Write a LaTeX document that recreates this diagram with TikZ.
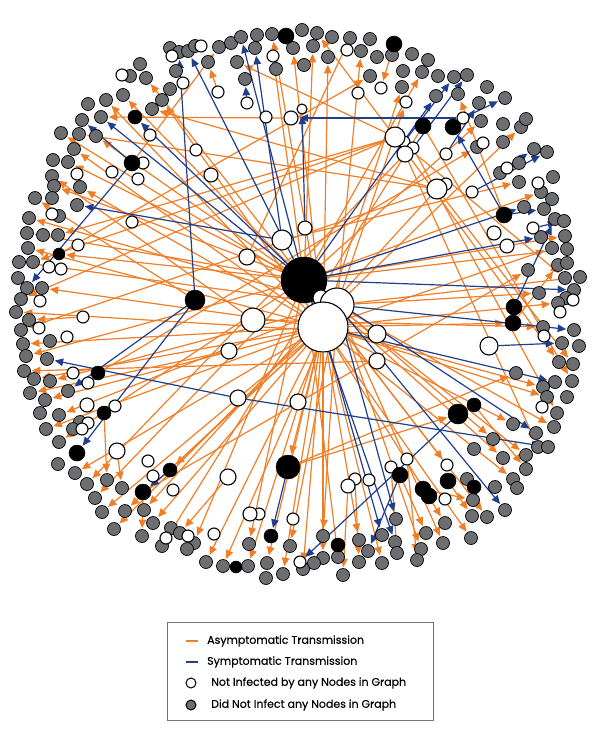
\documentclass[tikz,border=0pt]{standalone}
\usepackage{fontspec}
\setmainfont{Poppins}
\newfontfamily\lgdfont{Poppins}[FakeBold=0.35]
\usetikzlibrary{arrows.meta,backgrounds}
\definecolor{orC}{HTML}{F07E26}
\definecolor{blC}{HTML}{1F3E8C}
\definecolor{grC}{HTML}{6D6E71}
\tikzset{
  gn/.style={circle,draw=black,fill=grC,line width=0.7pt,minimum size=13pt,inner sep=0pt},
  wn/.style={circle,draw=black,fill=white,line width=1.1pt,minimum size=12pt,inner sep=0pt},
  bn/.style={circle,draw=black,fill=black,line width=0.5pt,minimum size=16pt,inner sep=0pt},
  oe/.style={draw=orC,line width=1.2pt,-{Triangle[length=8.5pt,width=7.5pt]},shorten >=1pt},
  be/.style={draw=blC,line width=1.2pt,-{Triangle[length=8.5pt,width=7.5pt]},shorten >=1pt},
  lgd/.style={anchor=west,font=\lgdfont\fontsize{11}{13}\selectfont,inner sep=0pt}
}
\begin{document}
\begin{tikzpicture}[x=1pt,y=-1pt]
\useasboundingbox (0,0) rectangle (600,750);
% gray nodes
\foreach \x/\y in {170/48,179/52,188/51,195/46,140/64,130/76,146/78,176/71,170/89,162/100,152/109,208/62,219/47,231/43,241/37,257/35,272/34,255/48,293/48,237/62,245/79,276/69,123/95,106/100,88/104,101/117,82/120,61/133,79/134,96/136,74/149,53/160,68/162,52/176,54/186,80/187,35/198,52/198,77/205,59/216,29/218,
302/30,317/33,332/37,350/38,370/39,313/46,361/51,377/57,392/55,412/54,428/60,304/65,328/57,370/76,403/71,422/72,438/76,454/77,467/75,402/87,436/96,458/94,487/87,505/98,479/103,481/121,503/124,521/127,526/119,477/147,503/142,534/149,547/152,500/173,519/163,553/177,519/182,541/192,552/199,544/209,524/207,555/219,564/221,541/237,565/236,552/248,567/249,558/265,567/263,580/277,565/278,528/270,539/293,
574/290,566/298,558/303,543/327,574/330,562/343,579/346,559/362,573/364,516/373,555/382,572/381,543/387,547/397,567/397,
557/413,554/427,536/433,513/424,493/439,474/449,538/447,548/447,526/455,526/469,503/458,513/479,517/488,495/487,467/479,473/500,505/510,487/517,472/516,445/523,471/538,443/543,426/533,421/549,417/560,396/519,382/535,395/542,397/553,359/540,368/551,382/563,359/562,343/575,338/557,323/536,323/558,314/563,303/569,
45/400,40/413,59/415,80/422,73/429,46/429,59/442,58/464,75/473,87/484,107/480,122/488,95/498,102/512,125/511,114/529,142/536,144/510,153/523,171/528,180/533,194/543,162/546,187/549,206/562,223/566,248/566,249/544,267/563,266/578,283/574,290/546,
27/233,43/235,58/235,28/248,19/262,33/262,18/278,27/288,42/288,21/299,16/312,29/320,21/330,50/341,23/344,26/356,47/359,24/371,34/379,50/381,68/391,30/393}
  \node[gn] (g\x-\y) at (\x,\y) {};
% white nodes
\foreach \x/\y in {201/46,172/56,122/75,183/83,273/56,218/92,247/103,266/117,347/50,381/88,358/93,406/102,463/118,404/142,413/148,446/154,483/143,507/168,538/183,446/184,472/192,150/135,143/163,112/172,138/179,196/150,77/174,52/214,132/222,78/245,49/267,61/269,40/301,83/317,39/328,67/337,73/373,88/383,533/228,573/300,560/312,544/336,542/407,447/465,445/499,391/467,407/459,355/479,369/480,300/562,293/519,259/514,214/534,166/538,188/536,173/490,153/476,148/461,115/406,88/423,82/429}
  \node[wn] (w\x-\y) at (\x,\y) {};
\foreach \x/\y in {302/109} \node[wn,minimum size=10pt] (w\x-\y) at (\x,\y) {};
\foreach \x/\y in {291/118,211/175,305/228,494/233,507/246,348/486,250/514,87/405} \node[wn,minimum size=14pt] (w\x-\y) at (\x,\y) {};
\foreach \x/\y in {405/154,247/257,229/351,377/361,238/398,298/402,228/477,117/451} \node[wn,minimum size=16pt] (w\x-\y) at (\x,\y) {};
\foreach \x/\y in {377/334,489/346} \node[wn,minimum size=18pt] (w\x-\y) at (\x,\y) {};
\foreach \x/\y in {395/137,437/189,282/240} \node[wn,minimum size=20pt] (w\x-\y) at (\x,\y) {};
\node[wn,minimum size=24pt] (w253-320) at (253,320) {};
% black nodes
\foreach \x/\y in {59/254,236/567} \node[bn,minimum size=12pt] (b\x-\y) at (\x,\y) {};
\foreach \x/\y in {135/117,98/373,104/413,170/470,271/536,338/545,474/487,474/405} \node[bn,minimum size=14pt] (b\x-\y) at (\x,\y) {};
\foreach \x/\y in {286/36,394/44,423/126,453/127,132/163,77/453,143/492,400/475,423/489,429/496,448/481,504/215,514/307,513/323} \node[bn,minimum size=16pt] (b\x-\y) at (\x,\y) {};
\foreach \x/\y in {195/300,458/414} \node[bn,minimum size=20pt] (b\x-\y) at (\x,\y) {};
\node[bn,minimum size=24pt] (b288-467) at (288,467) {};
% hubs
\node[bn,minimum size=46pt] (H1) at (304,280) {};
\node[wn,minimum size=16pt] (w321-298) at (321,298) {};
\node[wn,minimum size=34pt] (H3) at (337,305) {};
\node[wn,minimum size=50pt] (H2) at (323,327) {};
% edges
\begin{pgfonlayer}{background}
\foreach \s/\t in {w291-118/g101-117,H1/g123-95,H1/g146-78,H2/g162-100,w437-189/g152-109,b132-163/g219-47,w218-92/g208-62,w395-137/g237-62,H2/g272-34,H1/w273-56,H2/g293-48,w395-137/g317-33,H1/g313-46,H2/g328-57,w247-257/g350-38,H3/g361-51,b394-44/w381-88,H3/w406-102,H1/g422-72,H2/g402-87,b504-215/g458-94,H1/g481-121,H3/g521-127,w282-240/g519-182,H1/g541-192,
H1/g68-162,H2/g74-149,H3/g96-136,w437-189/g79-134,H1/g54-186,w253-320/g52-176,H2/g80-187,b195-300/g35-198,H3/g29-218,H1/g27-233,H2/g28-248,w395-137/g33-262,H3/g19-262,H1/b59-254,H2/g42-288,w83-317/g29-320,H2/g23-344,H1/g26-356,H2/g34-379,H3/g50-381,
H2/g45-400,H3/g59-415,H2/g46-429,H1/g59-442,H2/g75-473,b104-413/g107-480,w117-451/g122-488,H1/g95-498,H2/g102-512,H3/g114-529,H2/g125-511,H2/g153-523,b143-492/g142-536,H2/b170-470,H1/g194-543,H2/g206-562,H3/g223-566,H2/g248-566,H1/g249-544,H2/g267-563,H2/b288-467,H3/g290-546,H2/g283-574,H2/g303-569,H3/g323-536,H2/g323-558,H1/g338-557,
H2/g359-540,w348-486/g343-575,H2/g382-563,H3/g421-549,b400-475/g426-533,w407-459/g417-560,H2/g445-523,H3/g443-543,b448-481/g472-516,H2/g471-538,H1/g487-517,H2/g513-479,H1/g503-458,b288-467/b458-414,H3/g493-439,H1/g526-455,H2/g513-424,H3/g554-427,H1/w447-465,
H2/b513-323,H2/g543-387,w395-137/g559-362,w437-189/g573-364,b288-467/g516-373,H2/g547-397,b513-323/g558-265,H2/g552-248,H1/g567-249,w395-137/g565-278,H3/g539-293,H2/g558-303,w253-320/g543-327,w413-148/g557-413,w405-154/g538-447,b423-126/g572-381,
w395-137/g21-299,w395-137/g58-235,w437-189/g21-330,w405-154/g87-484,w437-189/g144-510,b423-126/g162-546,b59-254/g370-76,b98-373/g477-147,b143-492/g528-270,b474-405/g526-469,b423-489/g473-500,w391-467/g397-553,w355-479/g359-562,w228-477/g180-533,w377-334/g16-312,w377-361/g24-371,w229-351/g30-393,H3/g61-133,H2/g106-100,H1/g565-236,H3/g580-277}
  \draw[oe] (\s) -- (\t);
\foreach \s/\t in {b195-300/g179-52,H1/g188-51,w247-103/g245-79,w282-240/g255-48,H1/g241-37,H1/g436-96,w404-142/g454-77,w413-148/g467-75,w446-154/g479-103,w463-118/g505-98,b504-215/b453-127,w463-118/w291-118,w305-228/w302-109,w507-168/g534-149,w472-192/g547-152,H1/b135-117,b132-163/g82-120,H1/g101-117,b132-163/g27-288,w282-240/g77-205,w238-398/g47-359,b195-300/g68-391,b195-300/b77-453,b170-470/b143-492,b288-467/b271-536,b400-475/g368-551,b458-414/w300-562,H2/g382-535,H3/g396-519,H1/g395-542,H3/g505-510,H1/g536-433,w238-398/g548-447,H3/g574-330,w489-346/g562-343,H2/g555-382,b504-215/g544-209,b514-307/g555-219,H1/g541-237,H1/g574-290,H1/g524-207,w533-228/g564-221}
  \draw[be] (\s) -- (\t);
\end{pgfonlayer}
% legend
\node[draw=black!55,line width=0.6pt,minimum width=266pt,minimum height=98pt,anchor=north west,inner sep=0pt] (legend) at (167,622) {};
\draw[orC,line width=1.6pt] (186,641) -- (198,641);
\draw[blC,line width=1.6pt] (186,662) -- (198,662);
\node[wn,minimum size=10pt,line width=1pt] (lw) at (191,683) {};
\node[gn,minimum size=10pt,line width=1pt] (lg) at (191,705) {};
\node[lgd] (t1) at (207,641) {Asymptomatic Transmission};
\node[lgd] (t2) at (207,662) {Symptomatic Transmission};
\node[lgd] (t3) at (211,683) {Not Infected by any Nodes in Graph};
\node[lgd] (t4) at (211,705) {Did Not Infect any Nodes in Graph};
\end{tikzpicture}
\end{document}
